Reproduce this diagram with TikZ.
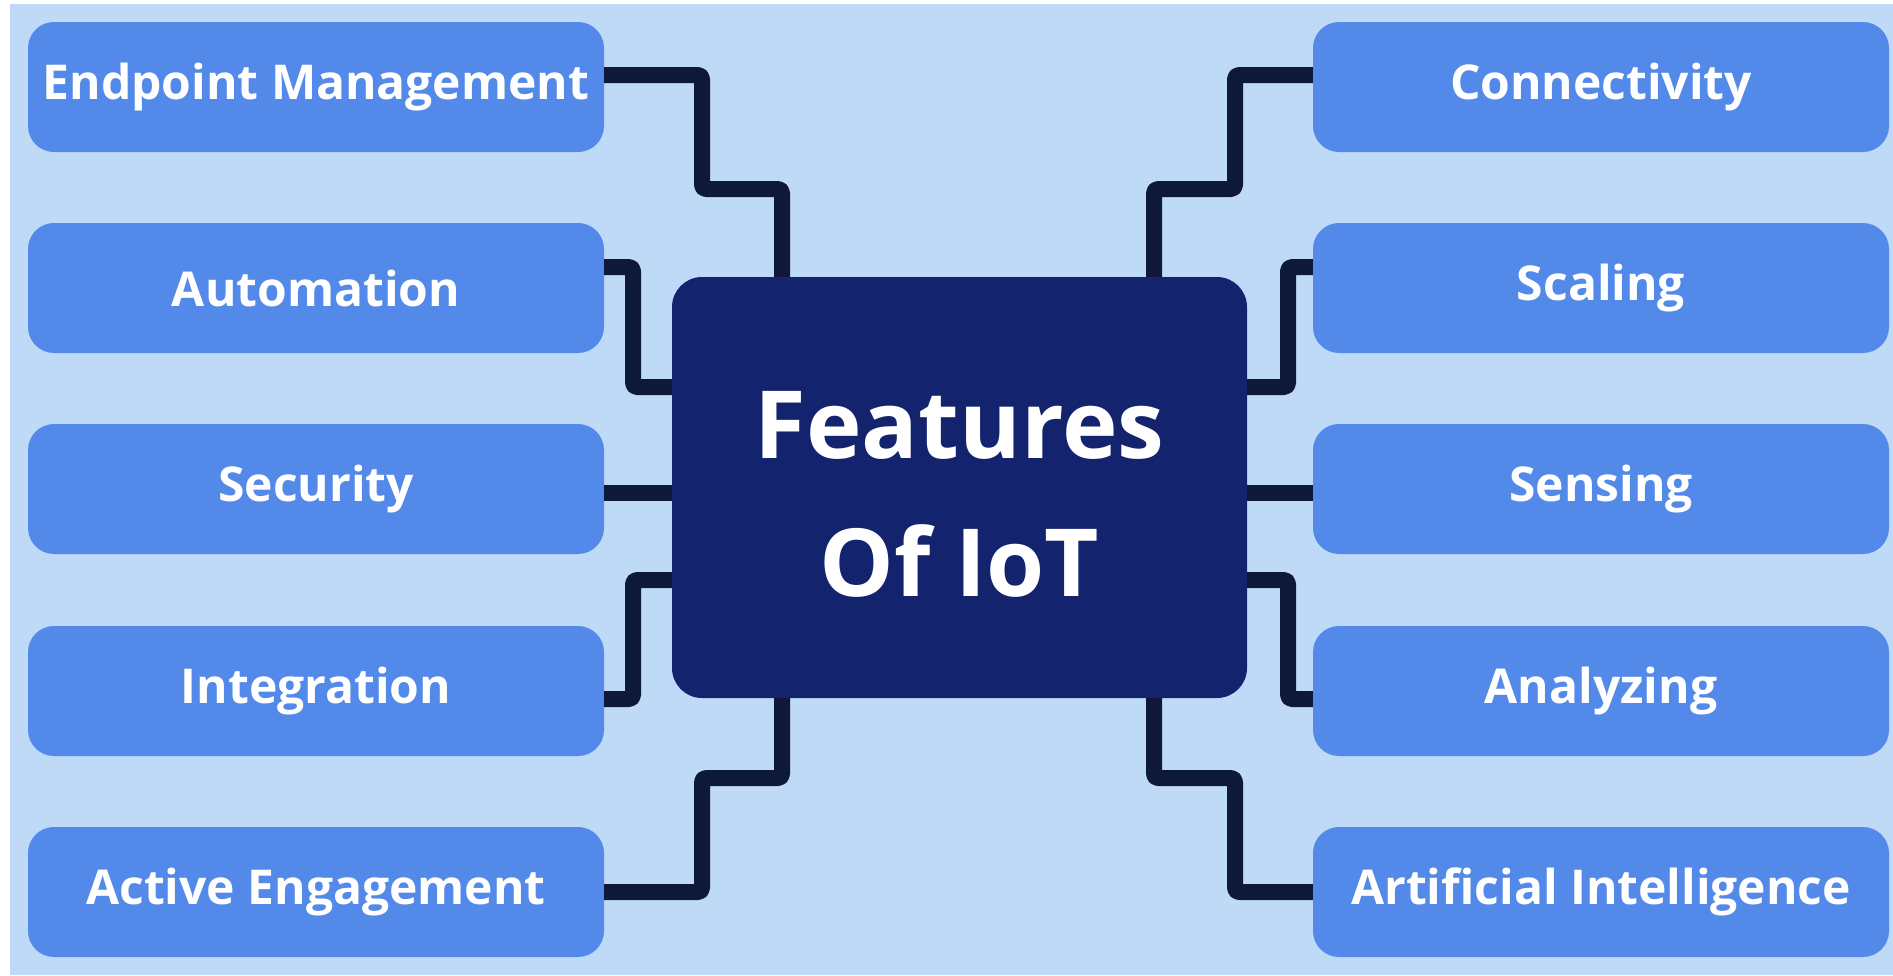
\documentclass[tikz,border=0pt]{standalone}
\usepackage{fontspec}
\setmainfont{Open Sans}
\definecolor{bgblue}{HTML}{BFDAF7}
\definecolor{boxblue}{HTML}{5389E8}
\definecolor{navy}{HTML}{13236E}
\definecolor{wire}{HTML}{0E1837}
\tikzset{
  feat/.style={rectangle, rounded corners=26pt, fill=boxblue, minimum width=576pt, minimum height=130pt, inner sep=0pt, text=white, font=\fontsize{48}{58}\selectfont\bfseries},
  hub/.style={rectangle, rounded corners=30pt, fill=navy, minimum width=575pt, minimum height=421pt, inner sep=0pt},
  hubtext/.style={inner sep=0pt, text=white, align=center, font=\fontsize{94}{138}\selectfont\bfseries},
  wirestyle/.style={draw=wire, line width=16pt, line join=round, rounded corners=4pt}
}
\begin{document}
\begin{tikzpicture}[x=1pt,y=-1pt]
\useasboundingbox (0,0) rectangle (1893,975);
\fill[white] (0,0) rectangle (1893,975);
\fill[bgblue] (10,4) rectangle (1893,975);
% center
\node[hub] (c) at (959.5,487.5) {};
\node[hubtext] (t) at ([yshift=-7pt]c.center) {Features\\Of IoT};
% left
\node[feat] (l1) at (316,87) {Endpoint Management};
\node[feat] (l2) at (316,288) {Automation};
\node[feat] (l3) at (316,489) {Security};
\node[feat] (l4) at (316,691) {Integration};
\node[feat] (l5) at (316,892) {Active Engagement};
% right
\node[feat] (r1) at (1601,87) {Connectivity};
\node[feat] (r2) at (1601,288) {Scaling};
\node[feat] (r3) at (1601,489) {Sensing};
\node[feat] (r4) at (1601,691) {Analyzing};
\node[feat] (r5) at (1601,892) {Artificial Intelligence};
% left connectors
\draw[wirestyle] (l1.east |- 0,75) -| (702,189) -| (c.north -| 782,0);
\draw[wirestyle] (l2.east |- 0,267) -| (633,387) -- (c.west |- 0,387);
\draw[wirestyle] (l3.east |- 0,493) -- (c.west |- 0,493);
\draw[wirestyle] (l4.east |- 0,699) -| (633,580) -- (c.west |- 0,580);
\draw[wirestyle] (l5.east |- 0,892) -| (702,778) -| (c.south -| 782,0);
% right connectors
\draw[wirestyle] (r1.west |- 0,75) -| (1235,189) -| (c.north -| 1154,0);
\draw[wirestyle] (r2.west |- 0,267) -| (1288,387) -- (c.east |- 0,387);
\draw[wirestyle] (r3.west |- 0,493) -- (c.east |- 0,493);
\draw[wirestyle] (r4.west |- 0,699) -| (1288,580) -- (c.east |- 0,580);
\draw[wirestyle] (r5.west |- 0,892) -| (1235,778) -| (c.south -| 1154,0);
\end{tikzpicture}
\end{document}
